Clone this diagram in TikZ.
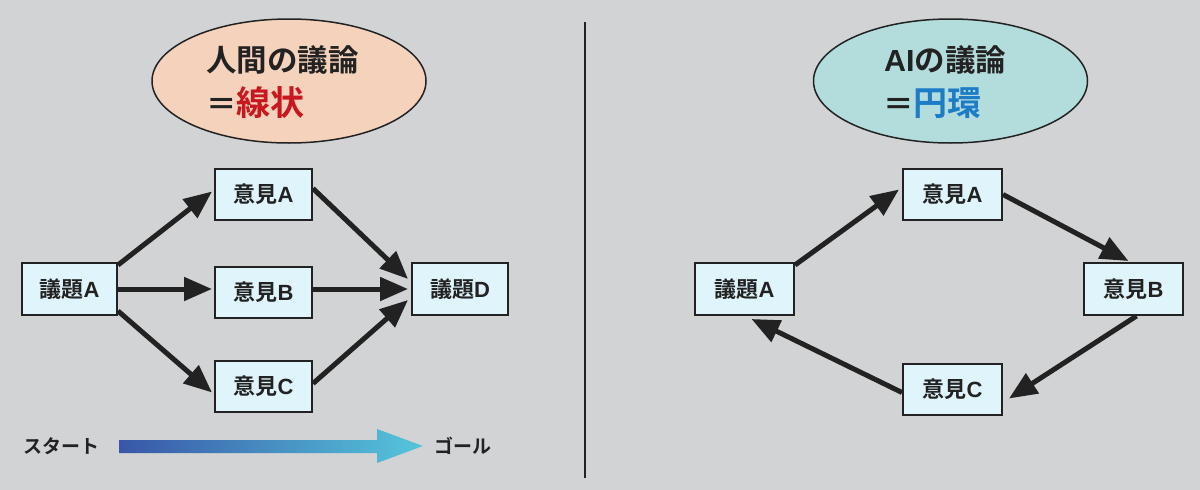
\documentclass[tikz,border=0pt]{standalone}
\usepackage{fontspec}
\setmainfont{Noto Sans CJK JP}[BoldFont=* Bold]
\newfontfamily\latf{Liberation Sans}
\usetikzlibrary{arrows.meta,shapes.geometric}
\definecolor{bgc}{HTML}{D2D3D5}
\definecolor{peach}{HTML}{F5D2BC}
\definecolor{aqua}{HTML}{B3DCDC}
\definecolor{boxc}{HTML}{E0F4FC}
\definecolor{redc}{HTML}{C8171E}
\definecolor{bluec}{HTML}{1C7CC6}
\definecolor{inkc}{HTML}{222222}
\definecolor{gradl}{HTML}{3956A8}
\definecolor{gradr}{HTML}{55C6DB}
\newcommand{\lt}[1]{{\latf\bfseries #1}}
\pgfdeclarelayer{bg}
\pgfdeclarelayer{mid}
\pgfsetlayers{bg,mid,main}
\tikzset{
  idea/.style={draw=inkc, line width=2pt, fill=boxc, minimum width=97pt, minimum height=51pt,
    inner sep=0pt, font=\bfseries\fontsize{22}{25}\selectfont, text=inkc},
  flow/.style={draw=inkc, line width=5pt, -{Triangle[length=28pt,width=23pt]}},
  titletxt/.style={anchor=west, inner sep=0pt, text=inkc, font=\bfseries\fontsize{30.5}{34}\selectfont},
  labeltxt/.style={inner sep=0pt, text=inkc, font=\bfseries\fontsize{19}{22}\selectfont},
  oval/.style={draw=inkc, line width=1.5pt, ellipse, minimum width=274pt, minimum height=124pt}
}
\begin{document}
\begin{tikzpicture}[x=1pt,y=-1pt]
\begin{pgfonlayer}{bg}
\fill[bgc] (0,0) rectangle (1200,490);
\end{pgfonlayer}
\useasboundingbox (0,0) rectangle (1200,490);

% divider
\coordinate (dtop) at (585,22);
\coordinate (dbot) at (585,478);
\draw[inkc, line width=2pt] (dtop) -- (dbot);

% title ellipses
\node[oval, fill=peach] (e1) at (289,81) {};
\node[oval, fill=aqua] (e2) at (950.5,81) {};
\node[titletxt] (t1) at (206,60) {人間の議論};
\node[titletxt] (t2) at (206,103) {＝{\color{redc}\fontsize{34}{38}\selectfont 線状}};
\node[titletxt] (t3) at (884,60) {\lt{AI}の議論};
\node[titletxt] (t4) at (883,103) {＝{\color{bluec}\fontsize{34}{38}\selectfont 円環}};

% left diagram
\node[idea, minimum width=95pt, minimum height=52pt] (ga) at (69.5,289) {議題\lt{A}};
\node[idea] (oa) at (263.5,194.5) {意見\lt{A}};
\node[idea] (ob) at (263.5,292.5) {意見\lt{B}};
\node[idea] (oc) at (263.5,386.5) {意見\lt{C}};
\node[idea, minimum width=96pt, minimum height=52pt] (gd) at (460,289) {議題\lt{D}};

% right diagram
\node[idea, minimum width=99pt, minimum height=52pt] (GA) at (744.5,289) {議題\lt{A}};
\node[idea, minimum width=99pt] (OA) at (952.5,194.5) {意見\lt{A}};
\node[idea, minimum width=99pt, minimum height=52pt] (OB) at (1133.5,289) {意見\lt{B}};
\node[idea, minimum width=99pt] (OC) at (952.5,389.5) {意見\lt{C}};

\begin{pgfonlayer}{mid}
\draw[flow] ([yshift=-3pt]ga.north east) -- ([xshift=-2pt,yshift=3pt]oa.west);
\draw[flow] (ga.east) -- ([xshift=-2pt]ga.east -| ob.west);
\draw[flow] ([yshift=5pt]ga.south east) -- ([xshift=-2pt,yshift=-6pt]oc.west);
\draw[flow] ([yshift=6pt]oa.east) -- ([xshift=-3pt,yshift=10pt]gd.west);
\draw[flow] (ob.east |- gd.west) -- ([xshift=-3pt]gd.west);
\draw[flow] ([yshift=3pt]oc.east) -- ([xshift=-3pt,yshift=-11pt]gd.west);

\draw[flow] ([yshift=-3pt]GA.north east) -- ([xshift=-3pt,yshift=5pt]OA.west);
\draw[flow] (OA.east) -- ([xshift=-5pt,yshift=1pt]OB.north);
\draw[flow] ([xshift=3pt]OB.south) -- ([xshift=6pt,yshift=-9pt]OC.east);
\draw[flow] ([yshift=-3pt]OC.west) -- ([xshift=7pt,yshift=-3pt]GA.south);
\end{pgfonlayer}

% start -> goal
\node[labeltxt] (st) at (61.5,446) {スタート};
\node[labeltxt] (gl) at (462.5,446) {ゴール};
\shade[left color=gradl, right color=gradr]
  (119,440) -- (377,440) -- (377,429) -- (423,446) -- (377,463) -- (377,453) -- (119,453) -- cycle;
\end{tikzpicture}
\end{document}
